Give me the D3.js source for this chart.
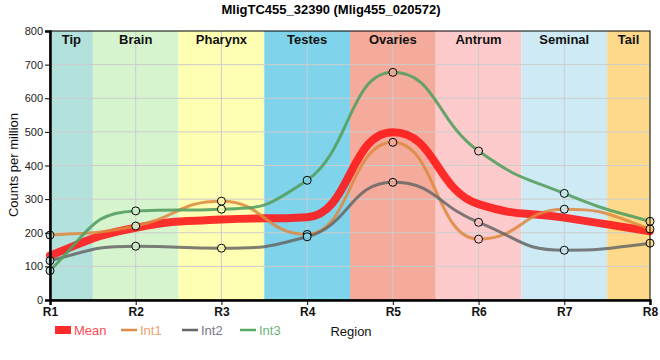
<!DOCTYPE html>
<html><head><meta charset="utf-8">
<script src="https://cdn.jsdelivr.net/npm/d3@7"></script>
<style>
body{margin:0;background:#fff;}
text{font-family:"Liberation Sans",Arial,sans-serif;}
</style></head>
<body><svg id="c" width="660" height="360"></svg>
<script>
const title = "MligTC455_32390 (Mlig455_020572)";
const regions = ["R1","R2","R3","R4","R5","R6","R7","R8"];
const bandNames = ["Tip","Brain","Pharynx","Testes","Ovaries","Antrum","Seminal","Tail"];
const bandColors = ["#b3e2dc","#d6f5cf","#ffffb4","#7fd4eb","#f4ab9c","#fdcbcc","#ceebf5","#fed98a"];
const int1 = [193, 220, 294, 195, 469, 181, 270, 211];
const int2 = [117, 160, 154, 188, 350, 231, 148, 169];
const int3 = [87, 265, 270, 356, 677, 443, 317, 234];
const mean = int1.map((v,i)=>(v+int2[i]+int3[i])/3);
const yTicks = [0,100,200,300,400,500,600,700,800];

// smooth monotone curve (monotone tangents, wider Bezier handles)
function curveSoft(context){
  const K = 0.5;
  let pts;
  return {
    areaStart(){}, areaEnd(){},
    lineStart(){ pts=[]; },
    point(x,y){ pts.push([+x,+y]); },
    lineEnd(){
      const n=pts.length; if(!n) return;
      const m=new Array(n).fill(0);
      const sgn=v=>v<0?-1:1;
      for(let i=1;i<n-1;i++){
        const h0=pts[i][0]-pts[i-1][0], h1=pts[i+1][0]-pts[i][0];
        const s0=(pts[i][1]-pts[i-1][1])/h0, s1=(pts[i+1][1]-pts[i][1])/h1;
        const p=(s0*h1+s1*h0)/(h0+h1);
        m[i]=(sgn(s0)+sgn(s1))*Math.min(Math.abs(s0),Math.abs(s1),0.5*Math.abs(p))||0;
      }
      if(n>1){
        const h=pts[1][0]-pts[0][0];
        m[0]=n>2?(3*(pts[1][1]-pts[0][1])/h-m[1])/2:(pts[1][1]-pts[0][1])/h;
        const he=pts[n-1][0]-pts[n-2][0];
        m[n-1]=n>2?(3*(pts[n-1][1]-pts[n-2][1])/he-m[n-2])/2:m[0];
      }
      context.moveTo(pts[0][0],pts[0][1]);
      for(let i=0;i<n-1;i++){
        const [x0,y0]=pts[i],[x1,y1]=pts[i+1];
        const h=x1-x0, lo=Math.min(y0,y1), hi=Math.max(y0,y1);
        const c1y=Math.max(lo,Math.min(hi,y0+K*h*m[i]));
        const c2y=Math.max(lo,Math.min(hi,y1-K*h*m[i+1]));
        context.bezierCurveTo(x0+K*h,c1y,x1-K*h,c2y,x1,y1);
      }
    }
  };
}

const svg = d3.select("#c");
const L=50,R=650,T=31,B=300;
const x = d3.scaleLinear().domain([0,regions.length-1]).range([L,R]);
const y = d3.scaleLinear().domain([0,800]).range([B,T]);

svg.append("text").attr("x",331).attr("y",14).attr("text-anchor","middle")
  .attr("font-size",13).attr("font-weight","bold").text(title);

const g = svg.append("g");
bandNames.forEach((n,i)=>{
  const x0 = x(Math.max(0,i-0.5)), x1 = x(Math.min(regions.length-1,i+0.5));
  g.append("rect").attr("x",x0).attr("y",T).attr("width",x1-x0).attr("height",B-T).attr("fill",bandColors[i]);
});
yTicks.slice(1,-1).forEach(t=>{
  g.append("line").attr("x1",L).attr("x2",R).attr("y1",y(t)).attr("y2",y(t)).attr("stroke","#cccccc").attr("stroke-width",1);
});
regions.forEach((r,i)=>{
  if(i>0 && i<regions.length-1)
  g.append("line").attr("x1",x(i)).attr("x2",x(i)).attr("y1",T).attr("y2",B).attr("stroke","#cccccc").attr("stroke-width",1);
});
bandNames.forEach((n,i)=>{
  const x0 = x(Math.max(0,i-0.5)), x1 = x(Math.min(regions.length-1,i+0.5));
  g.append("text").attr("x",(x0+x1)/2).attr("y",44).attr("text-anchor","middle")
   .attr("font-size",13).attr("font-weight","bold").attr("fill","#111").text(n);
});

const line = d3.line().x((d,i)=>x(i)).y(d=>y(d)).curve(curveSoft);
const series = [
  {name:"Mean",vals:mean,color:"#ff1a1a",w:8,op:0.9},
  {name:"Int1",vals:int1,color:"#dd8840",w:3,op:0.85},
  {name:"Int2",vals:int2,color:"#666666",w:3,op:0.85},
  {name:"Int3",vals:int3,color:"#55a060",w:3,op:0.9}
];
series.forEach(s=>{
  svg.append("path").attr("d",line(s.vals)).attr("fill","none").attr("stroke",s.color)
    .attr("stroke-width",s.w).attr("stroke-opacity",s.op).attr("stroke-linecap","round");
});
[int1,int2,int3].forEach(arr=>{
  arr.forEach((v,i)=>{
    svg.append("circle").attr("cx",x(i)).attr("cy",y(v)).attr("r",4)
      .attr("fill",bandColors[i]).attr("fill-opacity",0.85).attr("stroke","#000").attr("stroke-width",1);
  });
});

svg.append("rect").attr("x",L).attr("y",T).attr("width",R-L).attr("height",B-T).attr("fill","none").attr("stroke","#000").attr("stroke-width",1);

const ya = svg.append("g").attr("transform",`translate(${L},0)`)
  .call(d3.axisLeft(y).tickValues(yTicks).tickSize(5).tickPadding(2));
ya.select(".domain").attr("stroke-width",2.5);
ya.selectAll("text").attr("font-size",11).attr("fill","#222").style("font-family","'Liberation Sans',Arial,sans-serif");
const xa = svg.append("g").attr("transform",`translate(0,${B})`)
  .call(d3.axisBottom(x).tickValues(d3.range(regions.length)).tickFormat(i=>regions[i]).tickSize(5).tickPadding(2));
xa.select(".domain").attr("stroke-width",2.5);
xa.selectAll("text").attr("font-size",12).attr("font-weight","bold").attr("fill","#111").style("font-family","'Liberation Sans',Arial,sans-serif");

svg.append("text").attr("transform","translate(18,165) rotate(-90)").attr("text-anchor","middle")
  .attr("font-size",13).attr("fill","#111").text("Counts per million");

const lg = svg.append("g");
const legItems = [
  {name:"Mean",color:"#ff2a2a",tcolor:"#ff4a55",x:55,rect:true},
  {name:"Int1",color:"#e08a48",tcolor:"#eda070",x:121},
  {name:"Int2",color:"#666666",tcolor:"#767888",x:182},
  {name:"Int3",color:"#5aa866",tcolor:"#6fb57a",x:240}
];
legItems.forEach(it=>{
  if(it.rect) lg.append("rect").attr("x",it.x).attr("y",326).attr("width",16).attr("height",8).attr("fill",it.color);
  else lg.append("line").attr("x1",it.x).attr("x2",it.x+16).attr("y1",330).attr("y2",330).attr("stroke",it.color).attr("stroke-width",2.5);
  lg.append("text").attr("x",it.x+19).attr("y",335).attr("font-size",13).attr("fill",it.tcolor).text(it.name);
});
svg.append("text").attr("x",351).attr("y",336).attr("text-anchor","middle").attr("font-size",13).attr("fill","#111").text("Region");
</script></body></html>
